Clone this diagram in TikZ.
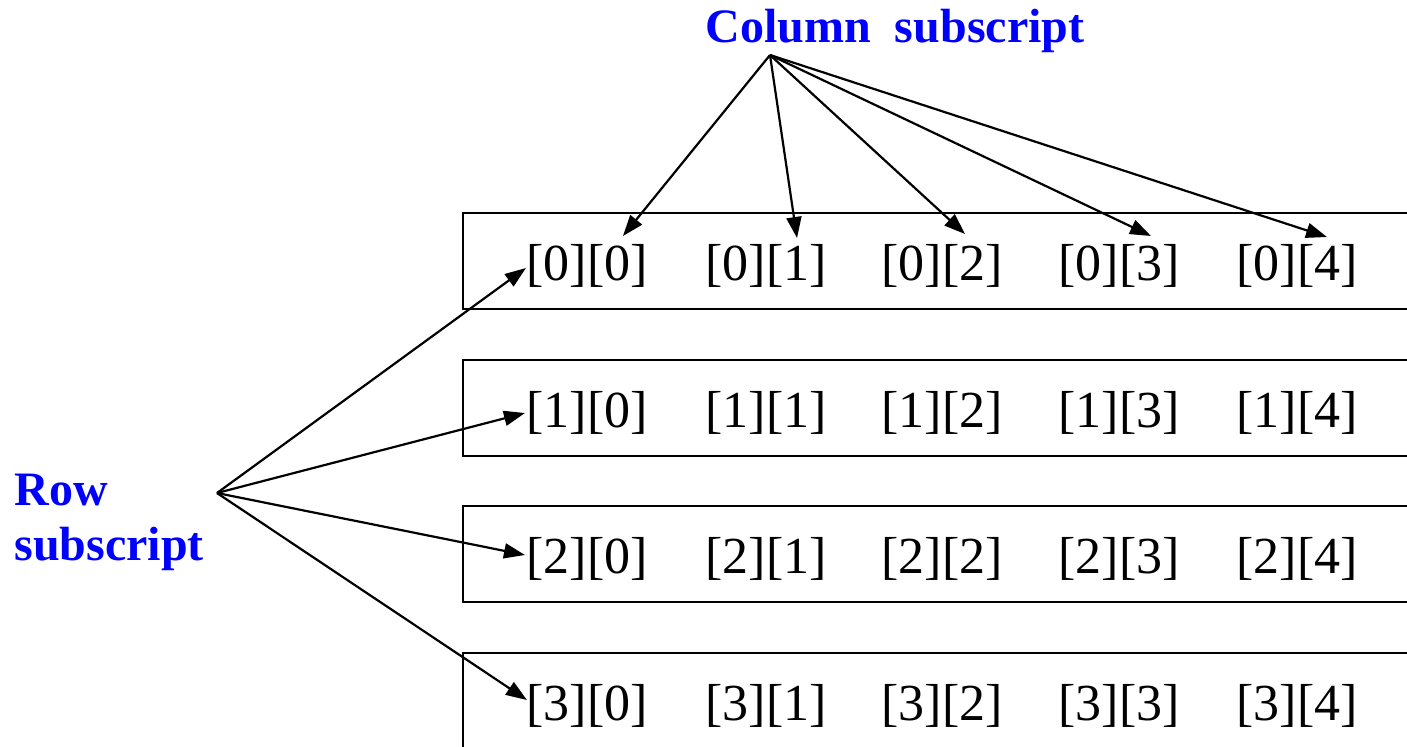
\documentclass[tikz,border=0pt]{standalone}
\usepackage{fontspec}
\setmainfont{Liberation Serif}
\usetikzlibrary{arrows.meta,calc}
\definecolor{lblblue}{RGB}{0,0,255}
\tikzset{
  cell/.style={inner sep=0pt, font=\fontsize{26}{30}\selectfont},
  rowbox/.style={draw=black, line width=1pt},
  lbl/.style={inner sep=0pt, text=lblblue, font=\fontsize{24}{27.5}\selectfont\bfseries},
  arr/.style={line width=1.1pt, -{Triangle[length=10.5pt,width=7.5pt]}}
}
\begin{document}
\begin{tikzpicture}[x=0.5pt,y=-0.5pt]
\clip (0,0) rectangle (1407,746);
% row boxes
\foreach \r/\t in {0/213,1/360,2/506,3/653}{
  \draw[rowbox] (1420,\t) -- (463,\t) -- (463,\t+96) -- (1420,\t+96);
}
% cells
\foreach \r/\y in {0/266,1/413,2/559,3/706}{
  \foreach \c/\x in {0/587,1/766,2/942,3/1119,4/1297}{
    \node[cell] (c\r\c) at (\x,\y) {[\r][\c]};
  }
}
% labels
\node[lbl, anchor=base] (col) at (895,42) {Column\ \ subscript};
\node[lbl, anchor=base west, align=left] (row) at (14,560) {Row\\subscript};
\coordinate (colsrc) at (770,55);
\coordinate (rowsrc) at (217,493);
% column arrows
\draw[arr] (colsrc) -- ($(c00.center)+(36,-30)$);
\draw[arr] (colsrc) -- ($(c01.center)+(31,-28)$);
\draw[arr] (colsrc) -- ($(c02.center)+(23,-32)$);
\draw[arr] (colsrc) -- ($(c03.center)+(32,-30)$);
\draw[arr] (colsrc) -- ($(c04.center)+(30,-29)$);
% row arrows
\draw[arr] (rowsrc) -- ($(c00.west)+(0,2)$);
\draw[arr] (rowsrc) -- ($(c10.west)+(-1,0)$);
\draw[arr] (rowsrc) -- ($(c20.west)+(-1,-4)$);
\draw[arr] (rowsrc) -- ($(c30.west)+(1,-6)$);
\end{tikzpicture}
\end{document}
